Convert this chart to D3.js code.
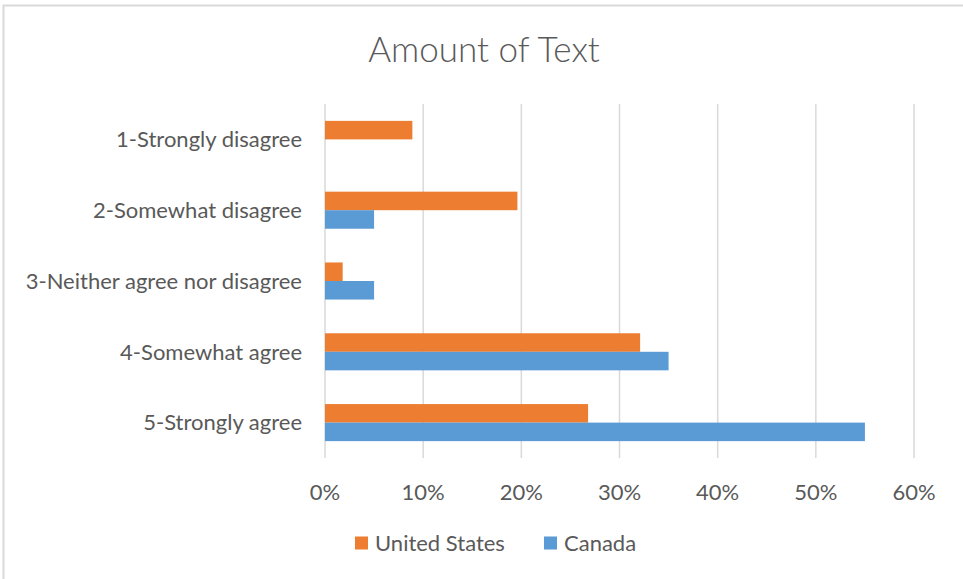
<!DOCTYPE html>
<html>
<head>
<meta charset="utf-8">
<script src="https://cdn.jsdelivr.net/npm/d3@7"></script>
<style>
  body { margin: 0; background: #fff; }
  text { font-family: Lato, "Open Sans", sans-serif; fill: #595959; }
</style>
</head>
<body>
<div id="chart"></div>
<script>
// Chart data
let categories = ["1-Strongly disagree", "2-Somewhat disagree", "3-Neither agree nor disagree",
                  "4-Somewhat agree", "5-Strongly agree"];
let seriesNames = ["United States", "Canada"];
let usValues = [0.089, 0.196, 0.018, 0.321, 0.268];
let canadaValues = [0, 0.05, 0.05, 0.35, 0.55];
let xTicks = [0, 0.1, 0.2, 0.3, 0.4, 0.5, 0.6];
let colors = ["#ed7d31", "#5b9bd5"];

let width = 963, height = 579;
let margin = {top: 104, bottom: 121, left: 325, right: 49};

let svg = d3.select("#chart").append("svg")
    .attr("width", width)
    .attr("height", height);

// Chart area border (left and top only visible)
svg.append("rect")
    .attr("x", 3.5).attr("y", 5.5)
    .attr("width", width + 10).attr("height", height + 10)
    .attr("fill", "none")
    .attr("stroke", "#d9d9d9")
    .attr("stroke-width", 2);

let x = d3.scaleLinear()
    .domain([0, 0.6])
    .range([margin.left, width - margin.right]);

let y = d3.scaleBand()
    .domain(categories)
    .range([margin.top, height - margin.bottom]);

let inner = d3.scaleBand()
    .domain(seriesNames)
    .range([0, y.bandwidth()])
    .paddingOuter(0.91);

// Gridlines
svg.append("g")
    .selectAll("line")
    .data(xTicks)
    .join("line")
        .attr("x1", d => x(d)).attr("x2", d => x(d))
        .attr("y1", margin.top).attr("y2", height - margin.bottom)
        .attr("stroke", "#d9d9d9")
        .attr("stroke-width", 1.5);

// Bars
let rows = categories.map((c, i) => ({cat: c, values: [usValues[i], canadaValues[i]]}));
let groups = svg.append("g")
    .selectAll("g")
    .data(rows)
    .join("g")
        .attr("transform", d => "translate(0," + y(d.cat) + ")");

groups.selectAll("rect")
    .data(d => d.values.map((v, j) => ({name: seriesNames[j], value: v, color: colors[j]})))
    .join("rect")
        .attr("x", x(0))
        .attr("y", d => inner(d.name))
        .attr("width", d => x(d.value) - x(0))
        .attr("height", inner.bandwidth())
        .attr("fill", d => d.color);

// Category labels
svg.append("g")
    .selectAll("text")
    .data(categories)
    .join("text")
        .attr("x", margin.left - 23)
        .attr("y", d => y(d) + y.bandwidth() / 2)
        .attr("dy", "0.35em")
        .attr("text-anchor", "end")
        .attr("font-size", "22px")
        .text(d => d);

// X tick labels
svg.append("g")
    .selectAll("text")
    .data(xTicks)
    .join("text")
        .attr("x", d => x(d))
        .attr("y", 492)
        .attr("dy", "0.35em")
        .attr("text-anchor", "middle")
        .attr("font-size", "22px")
        .text(d => d3.format(".0%")(d));

// Title
svg.append("text")
    .attr("x", 484)
    .attr("y", 50)
    .attr("dy", "0.35em")
    .attr("text-anchor", "middle")
    .attr("font-size", "35px")
    .attr("font-weight", 300)
    .text("Amount of Text");

// Legend
let legendX = [355, 544];
let legend = svg.append("g")
    .selectAll("g")
    .data(seriesNames)
    .join("g")
        .attr("transform", (d, i) => "translate(" + legendX[i] + ",543)");

legend.append("rect")
    .attr("x", 0).attr("y", -6.5)
    .attr("width", 13).attr("height", 13)
    .attr("fill", (d, i) => colors[i]);

legend.append("text")
    .attr("x", 20)
    .attr("dy", "0.35em")
    .attr("font-size", "22px")
    .text(d => d);
</script>
</body>
</html>
